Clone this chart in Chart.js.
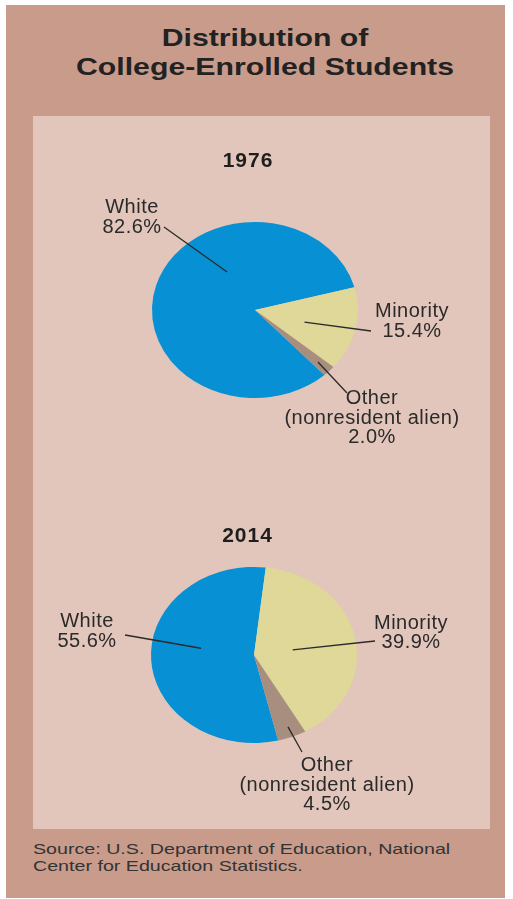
<!DOCTYPE html>
<html>
<head>
<meta charset="utf-8">
<script src="https://cdn.jsdelivr.net/npm/chart.js@4.4.1/dist/chart.umd.min.js"></script>
<style>
  html, body { margin: 0; padding: 0; background: #fff; }
  #wrap { position: relative; width: 513px; height: 899px; overflow: hidden; }
  #frame { position: absolute; left: 6px; top: 5px; width: 499px; height: 893px; background: #c89b8b; }
  #panel { position: absolute; left: 33px; top: 116px; width: 457px; height: 713px; background: #e2c6bb; }
  #title {
    position: absolute; left: 65px; top: 23px; width: 400px;
    text-align: center; color: #222;
    font: bold 24px "Liberation Sans", Arial, sans-serif; line-height: 29px;
    transform: scaleX(1.26); transform-origin: 200px 0; white-space: nowrap;
  }
  #source {
    position: absolute; left: 33px; top: 840px; color: #333;
    font: 15px "Liberation Sans", Arial, sans-serif; line-height: 17px;
    transform: scaleX(1.31); transform-origin: 0 0; white-space: nowrap;
  }
  canvas { position: absolute; left: 0; }
  #pie1976 { top: 140px; }
  #pie2014 { top: 485px; }
</style>
</head>
<body>
<div id="wrap">
  <div id="frame"></div>
  <div id="panel"></div>
  <div id="title">Distribution of<br>College-Enrolled Students</div>
  <canvas id="pie1976" width="513" height="340"></canvas>
  <canvas id="pie2014" width="513" height="340"></canvas>
  <div id="source">Source: U.S. Department of Education, National<br>Center for Education Statistics.</div>
</div>
<script>
// data
var categories = ["White", "Minority", "Other"];
var categoryLines = [["White"], ["Minority"], ["Other", "(nonresident alien)"]];
var years = ["1976", "2014"];
var share1976 = [82.6, 15.4, 2.0];
var share2014 = [55.6, 39.9, 4.5];
var sliceColors = ["#0790d3", "#dfd899", "#a88e7e"];

// label placement, offsets from the pie centre (px)
var labels1976 = [
    { dx: -123, dy: [-97, -77], lx: -91, ly: -83, t: 0.64, rf: 0.51 },
    { dx: 157, dy: [7, 27], lx: 116, ly: 21, t: 0.56, rf: 0.5 },
    { dx: 117, dy: [94, 114, 133], lx: 92, ly: 83, t: 0.5, rf: 0.85 }
];
var labels2014 = [
    { dx: -167, dy: [-28, -8], lx: -129, ly: -20, t: 0.56, rf: 0.52 },
    { dx: 157, dy: [-26, -7], lx: 121, ly: -14, t: 0.52, rf: 0.38 },
    { dx: 73, dy: [116, 136, 155], lx: 48, ly: 97, t: 0.48, rf: 0.88 }
];

var squish = 0.855; // pies are drawn slightly flattened

function pieLook(year, values, layout, yearPos) {
    return {
        id: "pieLook",
        beforeDatasetsDraw: function (chart) {
            var arc = chart.getDatasetMeta(0).data[0];
            var ctx = chart.ctx;
            ctx.save();
            ctx.translate(arc.x, arc.y);
            ctx.scale(1, squish);
            ctx.translate(-arc.x, -arc.y);
        },
        afterDatasetsDraw: function (chart) {
            chart.ctx.restore();
        },
        afterDraw: function (chart) {
            var ctx = chart.ctx;
            var arcs = chart.getDatasetMeta(0).data;
            var cx = arcs[0].x, cy = arcs[0].y;
            ctx.save();
            ctx.textAlign = "center";
            ctx.textBaseline = "alphabetic";
            ctx.fillStyle = "#1e1e1e";
            ctx.font = "bold 21px 'Liberation Sans', Arial, sans-serif";
            ctx.letterSpacing = "1px";
            ctx.fillText(year, cx + yearPos[0], cy + yearPos[1]);

            ctx.strokeStyle = "#2a2a2a";
            ctx.lineWidth = 1.3;
            ctx.fillStyle = "#2a2a2a";
            ctx.font = "20px 'Liberation Sans', Arial, sans-serif";
            ctx.letterSpacing = "0.5px";
            arcs.forEach(function (arc, i) {
                var L = layout[i];
                var a = arc.startAngle + L.t * (arc.endAngle - arc.startAngle);
                var r = L.rf * arc.outerRadius;
                ctx.beginPath();
                ctx.moveTo(cx + r * Math.cos(a), cy + r * Math.sin(a) * squish);
                ctx.lineTo(cx + L.lx, cy + L.ly);
                ctx.stroke();
                var lines = categoryLines[i].concat([values[i].toFixed(1) + "%"]);
                lines.forEach(function (txt, j) {
                    ctx.fillText(txt, cx + L.dx, cy + L.dy[j]);
                });
            });
            ctx.restore();
        }
    };
}

function makePie(id, values, rotation, padRight, layout, year, yearPos) {
    return new Chart(document.getElementById(id), {
        type: "pie",
        data: {
            labels: categories,
            datasets: [{
                data: values,
                backgroundColor: sliceColors,
                borderWidth: 0,
                hoverOffset: 0,
                radius: 103
            }]
        },
        options: {
            responsive: false,
            animation: false,
            rotation: rotation,
            layout: { padding: { left: 0, right: padRight, top: 0, bottom: 0 } },
            plugins: {
                legend: { display: false },
                tooltip: { enabled: false }
            }
        },
        plugins: [pieLook(year, values, layout, yearPos)]
    });
}

makePie("pie1976", share1976, 137.6, 3, labels1976, years[0], [-7, -143]);
makePie("pie2014", share2014, 166.4, 5, labels2014, years[1], [-6.5, -113]);
</script>
</body>
</html>
